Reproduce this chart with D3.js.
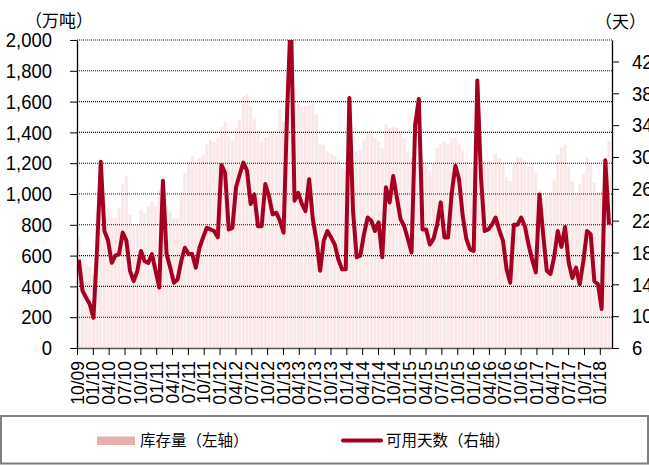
<!DOCTYPE html>
<html>
<head>
<meta charset="utf-8">
<script src="https://cdn.jsdelivr.net/npm/d3@7"></script>
<style>
  body { margin: 0; background: #fff; }
  text { font-family: "Liberation Sans", Arial, sans-serif; }
  .cjk { font-family: "Noto Sans CJK SC", sans-serif; }
</style>
</head>
<body>
<svg id="chart"></svg>
<script>
const width = 649, height = 466;

// one value every 3 weeks, starting at the 10/09 tick
const stepWeeks = 3;
const totalWeeks = 439;

// 库存量 (万吨)
const inventory = [
  724, 583, 544, 528, 480, 887, 1170, 952, 909, 844,
  844, 909, 1061, 1115, 865, 800, 800, 898, 876, 920,
  952, 920, 1028, 1061, 930, 887, 844, 844, 1017, 1137,
  1213, 1246, 1191, 1235, 1252, 1322, 1354, 1339, 1365, 1435,
  1474, 1374, 1354, 1430, 1485, 1626, 1648, 1572, 1485, 1413,
  1344, 1370, 1391, 1398, 1387, 1550, 1474, 1735, 1713, 1687,
  1594, 1572, 1572, 1578, 1583, 1517, 1326, 1317, 1278, 1261,
  1246, 1224, 1170, 1159, 1165, 1209, 1278, 1283, 1354, 1398,
  1409, 1365, 1339, 1300, 1452, 1430, 1435, 1430, 1413, 1365,
  1278, 1235, 1209, 1213, 1196, 1191, 1148, 1196, 1300, 1326,
  1339, 1322, 1365, 1365, 1326, 1278, 1209, 1165, 1170, 1159,
  1170, 1213, 1217, 1196, 1261, 1235, 1196, 1109, 1083, 1196,
  1239, 1235, 1217, 1180, 1202, 1137, 1028, 978, 991, 1007,
  1094, 1257, 1300, 1317, 1180, 1083, 996, 1061, 1130, 1235,
  1202, 1072, 1017, 1017, 1191, 1344
];

// 可用天数 (天)
const days = [
  17.1, 13.2, 12.3, 11.5, 9.8, 18.5, 29.4, 20.7, 19.5, 16.7,
  17.6, 17.8, 20.5, 19.5, 15.7, 14.4, 15.7, 18.2, 16.9, 16.7,
  17.8, 15.7, 13.6, 27.0, 17.8, 16.1, 14.2, 14.6, 16.9, 18.6,
  17.8, 17.8, 16.1, 18.6, 19.9, 21.1, 20.9, 20.7, 19.9, 29.0,
  28.0, 20.9, 21.1, 26.2, 27.8, 29.3, 28.3, 24.1, 25.3, 21.3,
  21.3, 26.6, 25.1, 22.8, 23.0, 22.0, 20.5, 36.0, 48.0, 24.5,
  25.5, 24.1, 23.2, 27.2, 22.2, 19.5, 15.7, 19.5, 20.7, 19.9,
  19.0, 17.1, 15.9, 15.9, 37.4, 23.2, 17.4, 17.6, 20.3, 22.4,
  22.0, 20.7, 21.8, 17.4, 26.2, 24.3, 27.6, 24.9, 22.2, 21.3,
  19.7, 18.0, 34.1, 37.3, 20.9, 20.9, 19.0, 19.7, 21.5, 24.3,
  19.9, 19.9, 25.5, 28.9, 27.2, 22.6, 19.7, 18.4, 18.2, 39.6,
  27.4, 20.7, 20.9, 21.5, 22.4, 20.8, 19.5, 15.9, 14.2, 21.5,
  21.5, 22.4, 21.3, 19.0, 17.1, 15.5, 25.3, 20.3, 15.7, 15.3,
  17.4, 20.7, 18.7, 21.2, 16.7, 14.8, 16.1, 14.0, 16.9, 20.7,
  20.3, 14.4, 14.0, 10.9, 29.6, 21.5
];

const tickLabels = [
  "10/09", "01/10", "04/10", "07/10", "10/10", "01/11", "04/11", "07/11", "10/11",
  "01/12", "04/12", "07/12", "10/12", "01/13", "04/13", "07/13", "10/13",
  "01/14", "04/14", "07/14", "10/14", "01/15", "04/15", "07/15", "10/15",
  "01/16", "04/16", "07/16", "10/16", "01/17", "04/17", "07/17", "10/17", "01/18"
];
const tickEveryWeeks = 13;
const leftTicks = [0, 200, 400, 600, 800, 1000, 1200, 1400, 1600, 1800, 2000];
const rightTicks = [6, 10, 14, 18, 22, 26, 30, 34, 38, 42];

const plot = { left: 77, right: 612, top: 40, bottom: 348 };
const barColor = "#fae7e7", lineColor = "#a50021";
const numScale = 0.88;

const svg = d3.select("#chart").attr("width", width).attr("height", height);

const x = d3.scaleLinear().domain([0, totalWeeks]).range([plot.left, plot.right]);
const yL = d3.scaleLinear().domain([0, 2000]).range([plot.bottom, plot.top]);
const yR = d3.scaleLinear().domain([6, 44.7]).range([plot.bottom, plot.top]);

svg.append("clipPath").attr("id", "plotClip")
  .append("rect")
  .attr("x", plot.left).attr("y", plot.top)
  .attr("width", plot.right - plot.left).attr("height", plot.bottom - plot.top);

// bars
svg.append("g")
  .selectAll("rect")
  .data(inventory)
  .enter()
  .append("rect")
  .attr("x", (d, i) => x(i * stepWeeks) + 0.3)
  .attr("width", x(stepWeeks) - x(0) - 0.6)
  .attr("y", d => yL(d))
  .attr("height", d => yL(0) - yL(d))
  .attr("fill", barColor);

// gridlines
svg.append("g")
  .selectAll("line")
  .data(leftTicks.filter(d => d > 0))
  .enter()
  .append("line")
  .attr("x1", plot.left).attr("x2", plot.right)
  .attr("y1", d => yL(d)).attr("y2", d => yL(d))
  .attr("stroke", "#111")
  .attr("stroke-width", 1.1)
  .attr("stroke-dasharray", "1,1");

// line
const line = d3.line()
  .x((d, i) => x(i * stepWeeks + stepWeeks / 2))
  .y(d => yR(d));

svg.append("path")
  .datum(days)
  .attr("clip-path", "url(#plotClip)")
  .attr("d", line)
  .attr("fill", "none")
  .attr("stroke", lineColor)
  .attr("stroke-width", 4)
  .attr("stroke-linejoin", "round");

// left axis
const gLeft = svg.append("g")
  .attr("transform", `translate(${plot.left},0)`)
  .call(d3.axisLeft(yL).tickValues(leftTicks).tickSize(7).tickSizeOuter(0).tickFormat(d3.format(",")));
gLeft.selectAll("text")
  .attr("x", -25 / numScale)
  .attr("transform", `scale(${numScale},1)`)
  .style("font-size", "21px").attr("fill", "#000");

// right axis
const gRight = svg.append("g")
  .attr("transform", `translate(${plot.right},0)`)
  .call(d3.axisRight(yR).tickValues(rightTicks).tickSize(7).tickSizeOuter(0));
gRight.selectAll("text")
  .attr("x", 20 / numScale)
  .attr("transform", `scale(${numScale},1)`)
  .style("font-size", "21px").attr("fill", "#000");

[gLeft, gRight].forEach(g => {
  g.select(".domain").attr("stroke", "#000").attr("stroke-width", 1.3);
  g.selectAll(".tick line").attr("stroke", "#000");
});

// bottom axis
const gBottom = svg.append("g")
  .attr("transform", `translate(0,${plot.bottom})`)
  .call(d3.axisBottom(x)
    .tickValues(tickLabels.map((d, i) => i * tickEveryWeeks))
    .tickSize(7).tickSizeOuter(0)
    .tickFormat((d, i) => tickLabels[i]));
gBottom.select(".domain").attr("stroke", "#555").attr("stroke-width", 1.3);
gBottom.selectAll(".tick line").attr("stroke", "#000");
gBottom.selectAll("text")
  .attr("transform", "rotate(-90)")
  .attr("x", -13).attr("y", 0).attr("dy", "0.35em")
  .attr("text-anchor", "end")
  .style("font-size", "17.5px").attr("fill", "#000");

// unit labels
svg.append("text").attr("class", "cjk")
  .attr("x", 25).attr("y", 21).attr("dy", "0.35em")
  .style("font-size", "17px").text("（万吨）");
svg.append("text").attr("class", "cjk")
  .attr("x", 595).attr("y", 22).attr("dy", "0.35em")
  .style("font-size", "17px").text("（天）");

// legend
svg.append("rect")
  .attr("x", 1).attr("y", 416).attr("width", 647).attr("height", 47.5)
  .attr("fill", "none").attr("stroke", "#7f7f7f").attr("stroke-width", 2);

const legend = svg.append("g");
legend.append("rect")
  .attr("x", 97).attr("y", 436.5).attr("width", 38).attr("height", 8.5)
  .attr("fill", "#e9afaf");
legend.append("text").attr("class", "cjk")
  .attr("x", 140).attr("y", 440.5).attr("dy", "0.35em")
  .style("font-size", "15.5px").text("库存量（左轴）");
legend.append("line")
  .attr("x1", 343).attr("x2", 381).attr("y1", 440.5).attr("y2", 440.5)
  .attr("stroke", lineColor).attr("stroke-width", 4).attr("stroke-linecap", "round");
legend.append("text").attr("class", "cjk")
  .attr("x", 386).attr("y", 440.5).attr("dy", "0.35em")
  .style("font-size", "15.5px").text("可用天数（右轴）");
</script>
</body>
</html>
